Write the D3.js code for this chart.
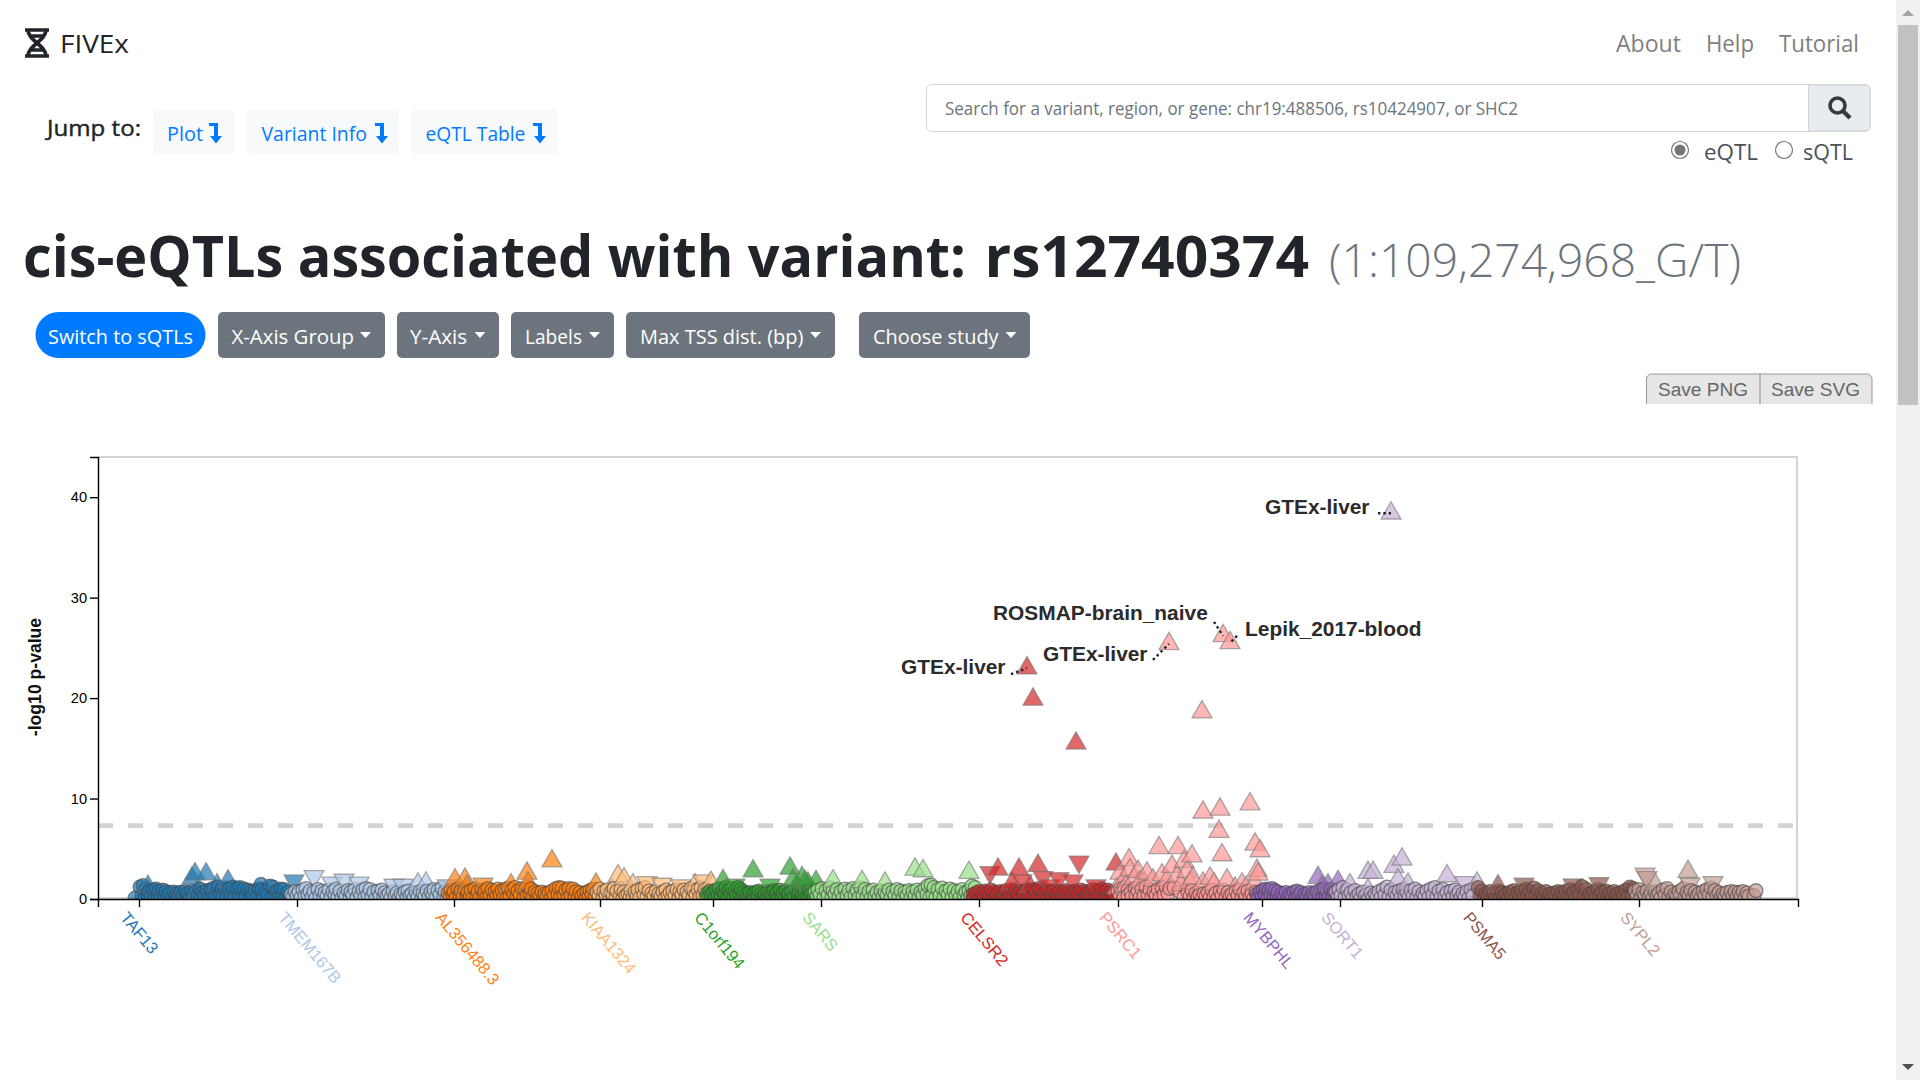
<!DOCTYPE html>
<html>
<head>
<meta charset="utf-8">
<title>FIVEx</title>
<script src="https://cdn.jsdelivr.net/npm/d3@7/dist/d3.min.js"></script>
<style>
html, body { margin: 0; padding: 0; background: #fff; overflow: hidden; }
svg { display: block; }
</style>
</head>
<body>
<svg id="page" width="1920" height="1080"></svg>
<script>
// gene tick labels and where each tick sits on the study rank axis
const geneNames = ["TAF13", "TMEM167B", "AL356488.3", "KIAA1324", "C1orf194", "SARS", "CELSR2", "PSRC1", "MYBPHL", "SORT1", "PSMA5", "SYPL2"];
const geneTicks = [41, 199, 356, 502, 615, 723, 881, 1020, 1164, 1242, 1384, 1541];
const geneColors = ["#1f77b4", "#aec7e8", "#ff7f0e", "#ffbb78", "#2ca02c", "#98df8a", "#d62728", "#ff9896", "#9467bd", "#c5b0d5", "#8c564b", "#c49c94"];
const yTicks = [0, 10, 20, 30, 40];
const threshold = 7.3;

// [rank, -log10 p]
const taf13Circles = [[37,.1],[42,1.2],[45,1.35],[48,1.0],[51,.75],[55,.9],[58,1.0],[61,.8],[65,.9],[68,.75],[72,.65],[76,.7],[79,.55],[83,.7],[87,.75],[90,.6],[94,.8],[98,.75],[102,1.0],[105,.7],[109,.85],[113,.95],[116,1.1],[120,1.2],[124,.95],[127,1.1],[131,1.0],[135,1.2],[139,1.05],[142,1.15],[146,1.0],[150,.9],[153,.75],[157,.85],[161,1.05],[163,1.45],[164,.9],[168,.75],[172,1.3],[175,1.2],[179,.8],[183,1.0],[186,.95],[190,.7]];
const taf13Low = [[44,.3],[47,.15],[50,.35],[53,.2],[57,.1],[60,.3],[63,.15],[67,.25],[70,.4],[74,.2],[78,.1],[81,.3],[85,.2],[89,.35],[92,.15],[96,.25],[100,.4],[103,.2],[107,.3],[111,.1],[115,.35],[118,.2],[122,.45],[125,.25],[129,.15],[133,.4],[137,.25],[141,.3],[144,.15],[148,.35],[152,.2],[155,.3],[159,.1],[166,.25],[170,.4],[174,.15],[177,.3],[181,.2],[185,.35],[188,.15],[192,.3]];
const taf13Up = [[50,1.23],[94,2.06],[97,2.49],[99,.7],[108,2.49],[119,1.39],[130,1.79]];
const taf13Down = [[196,1.82]];

const tmem167bCircles = [[193,.45],[197,.75],[201,.7],[205,.9],[208,1.05],[212,.8],[216,.7],[220,.95],[224,.8],[227,.65],[231,.9],[235,.75],[238,1.0],[242,.8],[246,.6],[250,.85],[253,.7],[257,.95],[261,.75],[265,.9],[268,1.05],[272,.95],[276,.7],[280,.8],[284,.9],[287,.65],[291,.55],[295,.75],[299,.6],[303,.5],[307,.7],[310,.8],[314,.55],[318,.65],[322,.75],[325,.6],[329,.8],[333,.7],[336,.95],[340,.85],[344,1.1],[347,.75]];
const tmem167bLow = [[195,.2],[199,.35],[203,.15],[207,.3],[210,.45],[214,.2],[218,.1],[222,.35],[226,.2],[229,.3],[233,.15],[237,.4],[240,.25],[244,.1],[248,.3],[252,.2],[255,.4],[259,.15],[263,.3],[267,.2],[270,.4],[274,.25],[278,.1],[282,.35],[286,.2],[289,.3],[293,.15],[297,.25],[301,.1],[305,.3],[309,.2],[312,.35],[316,.15],[320,.25],[324,.1],[327,.3],[331,.2],[335,.35],[338,.15],[342,.4],[346,.25],[349,.1]];
const tmem167bUp = [[320,1.46],[328,1.56]];
const tmem167bDown = [[216,2.26],[234,1.6],[246,1.89],[261,1.6],[296,1.39],[305,1.39],[349,1.33]];

const al356488Circles = [[350,.6],[353,.9],[356,.75],[360,1.0],[363,.8],[367,.95],[370,.7],[373,.85],[377,1.0],[380,.75],[384,.9],[387,.8],[390,1.05],[394,.9],[397,.75],[400,1.0],[404,.85],[407,.95],[410,1.1],[414,.9],[417,1.15],[420,.8],[424,1.05],[427,.95],[430,1.2],[433,1.0],[437,.75],[440,.6],[444,.7],[447,.55],[451,.65],[454,.8],[458,1.05],[461,1.15],[464,1.1],[468,.9],[471,1.05],[475,1.0],[478,.75],[482,.65],[486,.55],[489,.7],[492,.85],[495,1.0]];
const al356488Low = [[352,.25],[355,.4],[358,.15],[362,.35],[365,.2],[369,.45],[372,.25],[375,.1],[379,.35],[382,.2],[386,.45],[389,.25],[392,.4],[396,.15],[399,.3],[402,.45],[406,.25],[409,.1],[412,.35],[416,.5],[419,.25],[422,.4],[426,.15],[429,.35],[432,.5],[435,.25],[439,.1],[442,.3],[446,.2],[449,.3],[453,.1],[456,.35],[460,.45],[463,.25],[466,.4],[470,.15],[473,.35],[477,.2],[480,.1],[484,.3],[488,.15],[491,.25],[494,.4],[497,.2]];
const al356488Up = [[357,1.89],[367,1.96],[369,1.23],[413,1.39],[429,2.55],[430,1.56],[454,3.78],[498,1.46]];
const al356488Down = [[385,1.49]];

const kiaa1324Circles = [[499,.7],[502,1.0],[506,.75],[509,.9],[513,.65],[516,1.05],[519,.8],[523,.95],[526,.7],[530,.55],[533,.8],[537,.7],[540,.9],[544,1.05],[547,1.15],[551,.8],[554,.6],[558,.75],[561,.55],[565,.7],[568,.9],[572,.65],[575,.8],[579,.95],[582,.75],[586,.9],[589,.7],[593,1.05],[596,.8],[600,.95],[603,1.1],[607,.95]];
const kiaa1324Low = [[501,.3],[505,.15],[508,.35],[512,.2],[515,.4],[518,.1],[522,.3],[525,.15],[528,.35],[532,.2],[535,.1],[539,.3],[542,.15],[546,.4],[549,.2],[553,.1],[556,.3],[560,.15],[563,.25],[567,.1],[570,.35],[574,.2],[577,.3],[581,.15],[584,.4],[588,.2],[591,.35],[595,.15],[598,.4],[602,.25],[605,.35],[608,.15]];
const kiaa1324Up = [[514,.9],[520,2.29],[526,1.99],[535,1.39],[597,1.39],[613,1.63]];
const kiaa1324Down = [[549,1.66],[564,1.49],[583,1.33],[605,1.82]];

const c1orf194Circles = [[609,.55],[612,.8],[615,.65],[618,.9],[621,1.05],[625,.8],[628,1.15],[631,.9],[634,1.05],[637,.8],[640,1.15],[643,.95],[646,.7],[649,.55],[652,.65],[655,.5],[658,.7],[661,.8],[664,.6],[667,.5],[670,.75],[673,.65],[676,.85],[679,.7],[682,.9],[685,.65],[688,.8],[691,.6],[694,.7],[698,.85],[701,.65],[704,.5],[707,.7],[711,.8],[714,.65]];
const c1orf194Low = [[610,.2],[613,.35],[617,.15],[620,.4],[623,.25],[627,.45],[630,.2],[633,.4],[636,.15],[639,.35],[642,.5],[645,.25],[648,.1],[651,.3],[654,.15],[657,.25],[660,.35],[663,.1],[666,.25],[669,.15],[672,.3],[675,.2],[678,.4],[681,.15],[684,.3],[687,.2],[690,.35],[693,.1],[696,.25],[700,.4],[703,.15],[706,.3],[709,.2],[712,.35],[716,.15]];
const c1orf194Up = [[625,1.82],[655,2.79],[692,3.05],[695,1.89],[699,1.39],[704,2.12],[707,1.72],[710,1.56],[718,1.72]];
const c1orf194Down = [[637,1.39],[672,1.39]];

const sarsCircles = [[717,.7],[720,.9],[724,1.05],[728,.85],[732,1.1],[735,.8],[739,.95],[743,.75],[747,1.0],[751,.85],[755,1.05],[759,.9],[763,1.1],[767,.95],[771,.75],[775,.9],[779,.65],[783,.8],[787,.7],[791,.9],[795,.75],[799,.95],[803,.8],[807,.7],[811,.85],[815,.75],[819,.9],[823,.7],[827,1.05],[830,1.35],[833,1.4],[836,1.15],[840,.95],[844,1.1],[848,.8],[852,1.0],[856,.85],[860,.75],[864,.95],[868,.7],[871,.8],[874,1.3],[877,1.15]];
const sarsLow = [[719,.25],[722,.4],[726,.15],[730,.35],[734,.2],[737,.45],[741,.25],[745,.1],[749,.35],[753,.2],[757,.4],[761,.15],[765,.35],[769,.2],[773,.1],[777,.3],[781,.15],[785,.25],[789,.4],[793,.15],[797,.3],[801,.2],[805,.1],[809,.35],[813,.15],[817,.3],[821,.2],[825,.35],[829,.45],[832,.2],[835,.4],[838,.15],[842,.35],[846,.2],[850,.4],[854,.15],[858,.3],[862,.2],[866,.35],[870,.15],[873,.4],[876,.25]];
const sarsUp = [[735,1.79],[764,1.72],[787,1.56],[817,2.95],[825,2.79],[871,2.62]];
const sarsDown = [];

const celsr2Circles = [[875,.45],[878,.6],[881,.75],[884,.55],[887,.8],[890,.65],[893,.9],[896,.7],[899,.55],[902,.75],[905,.6],[908,.85],[911,.7],[914,.95],[917,.75],[920,.55],[923,.8],[926,.65],[929,.9],[932,.75],[935,.95],[938,.8],[941,1.05],[944,.9],[947,.7],[950,.85],[953,.65],[956,.8],[959,.55],[962,.75],[965,.65],[968,.85],[971,.7],[974,.55],[977,.8],[980,.65],[983,.9],[986,.75],[989,.6],[992,.8],[995,.95],[998,.7],[1001,.85],[1004,1.0],[1007,.75],[1010,.9],[1013,.7],[1016,.6]];
const celsr2Low = [[876,.15],[880,.3],[883,.1],[886,.35],[889,.2],[892,.4],[895,.15],[898,.3],[901,.1],[904,.25],[907,.4],[910,.2],[913,.35],[916,.15],[919,.3],[922,.1],[925,.35],[928,.2],[931,.4],[934,.25],[937,.45],[940,.2],[943,.35],[946,.15],[949,.3],[952,.1],[955,.3],[958,.15],[961,.25],[964,.4],[967,.2],[970,.3],[973,.1],[976,.35],[979,.2],[982,.4],[985,.15],[988,.25],[991,.35],[994,.2],[997,.4],[1000,.15],[1003,.3],[1006,.2],[1009,.35],[1012,.15],[1015,.25]];
const celsr2Up = [[900,2.95],[914,1.56],[921,2.95],[929,22.98],[932,1.23],[935,19.87],[940,3.32],[978,15.5],[1018,3.45]];
const celsr2Down = [[892,2.65],[924,1.82],[945,2.16],[952,1.33],[961,2.05],[975,1.82],[981,3.7],[998,1.33]];

const psrc1Circles = [[1020,.8],[1023,1.0],[1026,1.15],[1030,.9],[1033,.7],[1037,1.05],[1040,.8],[1044,.95],[1048,1.2],[1052,.9],[1056,.7],[1060,.95],[1064,1.1],[1068,1.2],[1072,1.05],[1076,1.15],[1082,.7],[1090,.65],[1094,.85],[1098,.6],[1102,.45],[1106,.55],[1110,.65],[1114,.85],[1118,.6],[1122,.75],[1126,.9],[1130,.65],[1134,.5],[1138,.75],[1142,.9],[1146,.65],[1150,.8],[1154,.55],[1158,.7]];
const psrc1Low = [[1022,.3],[1026,.15],[1030,.35],[1034,.2],[1038,.4],[1042,.15],[1046,.3],[1050,.45],[1054,.2],[1058,.35],[1062,.15],[1066,.45],[1070,.55],[1086,.2],[1092,.3],[1096,.15],[1100,.25],[1104,.1],[1108,.3],[1112,.15],[1116,.25],[1120,.1],[1124,.35],[1128,.2],[1132,.3],[1136,.1],[1140,.35],[1144,.15],[1148,.3],[1152,.2],[1156,.1]];
const psrc1Up = [[1019,1.06],[1022,2.55],[1025,1.72],[1028,1.3],[1031,3.88],[1032,2.89],[1036,2.0],[1040,2.72],[1042,1.72],[1046,1.5],[1049,2.55],[1055,1.89],[1061,5.1],[1064,2.39],[1069,1.89],[1071,25.4],[1074,3.22],[1079,2.22],[1080,5.1],[1083,1.4],[1086,3.71],[1089,2.72],[1092,1.6],[1094,4.28],[1095,2.06],[1104,18.6],[1105,8.62],[1105,1.56],[1112,2.06],[1116,1.5],[1121,6.7],[1122,8.92],[1124,4.38],[1125,26.2],[1129,1.89],[1132,25.5],[1137,1.06],[1144,1.46],[1148,1.1],[1152,9.45],[1157,5.44],[1157,1.56],[1159,2.82],[1160,2.45],[1162,4.78]];
const psrc1Down = [];

const mybphlCircles = [[1159,.5],[1162,.7],[1165,.9],[1168,1.0],[1171,.9],[1174,1.05],[1177,.85],[1180,.7],[1184,.55],[1188,.65],[1192,.5],[1196,.7],[1199,.8],[1203,.65],[1207,.5],[1211,.65],[1215,.55],[1219,.75],[1223,.9],[1226,1.0],[1229,.8],[1233,.95],[1236,.75]];
const mybphlLow = [[1160,.15],[1164,.3],[1167,.45],[1170,.2],[1173,.35],[1176,.15],[1179,.3],[1182,.1],[1186,.25],[1190,.15],[1194,.3],[1198,.2],[1201,.35],[1205,.1],[1209,.25],[1213,.15],[1217,.3],[1221,.4],[1225,.2],[1228,.35],[1231,.15],[1235,.3]];
const mybphlUp = [[1220,2.12],[1224,1.2],[1230,1.39],[1240,1.72]];
const mybphlDown = [];

const sort1Circles = [[1238,.7],[1241,.95],[1245,1.15],[1249,.9],[1253,.65],[1257,.85],[1261,.5],[1265,.7],[1269,.45],[1273,.6],[1277,.5],[1281,.75],[1285,.95],[1289,1.2],[1293,.9],[1297,.65],[1301,.8],[1305,.95],[1309,.7],[1313,.85],[1317,1.0],[1321,.75],[1325,.55],[1329,.8],[1333,1.0],[1337,1.15],[1341,.8],[1345,.95],[1349,.65],[1353,.8],[1357,.9],[1361,.7],[1365,.55],[1369,.75],[1373,.9]];
const sort1Low = [[1240,.2],[1243,.35],[1247,.15],[1251,.3],[1255,.1],[1259,.25],[1263,.15],[1267,.3],[1271,.1],[1275,.2],[1279,.3],[1283,.15],[1287,.4],[1291,.25],[1295,.1],[1299,.3],[1303,.15],[1307,.35],[1311,.2],[1315,.3],[1319,.15],[1323,.1],[1327,.3],[1331,.2],[1335,.4],[1339,.25],[1343,.15],[1347,.3],[1351,.1],[1355,.25],[1359,.35],[1363,.15],[1367,.25],[1371,.1],[1375,.3]];
const sort1Up = [[1252,1.39],[1270,2.62],[1270,.9],[1275,2.62],[1293,38.4],[1296,3.22],[1300,1.89],[1304,3.95],[1310,1.46],[1349,2.29],[1379,1.56]];
const sort1Down = [[1367,1.66]];

const psma5Circles = [[1380,1.15],[1384,.8],[1388,.55],[1392,.75],[1396,.6],[1400,.8],[1404,.65],[1408,.5],[1412,.7],[1416,.85],[1420,.65],[1424,.8],[1428,.95],[1432,.75],[1436,1.1],[1440,.85],[1444,.6],[1448,.75],[1452,.5],[1456,.6],[1460,.75],[1464,.65],[1468,.8],[1472,.95],[1476,.7],[1480,.85],[1484,1.25],[1488,1.0],[1492,.55],[1496,.75],[1500,.95],[1504,.7],[1508,.8],[1512,.6],[1516,.75],[1520,.55],[1524,.7],[1528,.9],[1532,1.2],[1535,1.05]];
const psma5Low = [[1382,.3],[1386,.15],[1390,.35],[1394,.2],[1398,.3],[1402,.1],[1406,.25],[1410,.15],[1414,.35],[1418,.2],[1422,.3],[1426,.15],[1430,.4],[1434,.25],[1438,.35],[1442,.15],[1446,.25],[1450,.1],[1454,.2],[1458,.3],[1462,.15],[1466,.3],[1470,.2],[1474,.35],[1478,.15],[1482,.4],[1486,.25],[1490,.1],[1494,.3],[1498,.2],[1502,.35],[1506,.15],[1510,.25],[1514,.1],[1518,.3],[1522,.15],[1526,.35],[1530,.2],[1534,.4]];
const psma5Up = [[1400,1.29]];
const psma5Down = [[1426,1.49],[1475,1.42],[1501,1.56]];

const sypl2Circles = [[1537,.8],[1541,.95],[1545,.65],[1549,.8],[1553,.55],[1557,.75],[1561,.6],[1565,.9],[1569,1.05],[1573,.7],[1577,.5],[1581,.75],[1585,1.0],[1589,.65],[1593,.85],[1597,.7],[1601,.55],[1605,.75],[1609,.95],[1613,1.1],[1617,.85],[1621,.65],[1625,.5],[1629,.65],[1633,.75],[1637,.7],[1641,.65],[1645,.75],[1649,.6],[1658,.83]];
const sypl2Low = [[1539,.3],[1543,.15],[1547,.35],[1551,.2],[1555,.1],[1559,.3],[1563,.15],[1567,.4],[1571,.25],[1575,.15],[1579,.3],[1583,.4],[1587,.2],[1591,.35],[1595,.15],[1599,.25],[1603,.1],[1607,.3],[1611,.4],[1615,.2],[1619,.3],[1623,.15],[1627,.25],[1631,.1],[1635,.3],[1639,.2],[1643,.25],[1647,.15],[1651,.3],[1656,.35]];
const sypl2Up = [[1557,1.46],[1584,.73],[1590,2.72]];
const sypl2Down = [[1547,2.49],[1549,2.16],[1592,1.49],[1615,1.66]];

const geneCircles = [taf13Circles, tmem167bCircles, al356488Circles, kiaa1324Circles, c1orf194Circles, sarsCircles, celsr2Circles, psrc1Circles, mybphlCircles, sort1Circles, psma5Circles, sypl2Circles];
const geneLow = [taf13Low, tmem167bLow, al356488Low, kiaa1324Low, c1orf194Low, sarsLow, celsr2Low, psrc1Low, mybphlLow, sort1Low, psma5Low, sypl2Low];
const geneUp = [taf13Up, tmem167bUp, al356488Up, kiaa1324Up, c1orf194Up, sarsUp, celsr2Up, psrc1Up, mybphlUp, sort1Up, psma5Up, sypl2Up];
const geneDown = [taf13Down, tmem167bDown, al356488Down, kiaa1324Down, c1orf194Down, sarsDown, celsr2Down, psrc1Down, mybphlDown, sort1Down, psma5Down, sypl2Down];

// labelled studies and the point each one belongs to
const labelNames = ["GTEx-liver", "ROSMAP-brain_naive", "Lepik_2017-blood", "GTEx-liver", "GTEx-liver"];
const labelRanks = [1293, 1125, 1132, 1071, 929];
const labelValues = [38.4, 26.2, 25.5, 25.4, 22.98];

const navItems = ["About", "Help", "Tutorial"];
const jumpItems = ["Plot", "Variant Info", "eQTL Table"];
const controlItems = ["X-Axis Group", "Y-Axis", "Labels", "Max TSS dist. (bp)", "Choose study"];

const svg = d3.select("#page");
const uiFont = "'Open Sans', sans-serif";
const plotFont = "'Liberation Sans', Arial, sans-serif";

// text squeezed to the measured width, the page font is a little narrower than Open Sans
function uiText(x0, x1, base, str, size, fill, weight) {
    return svg.append("text")
        .attr("x", x0).attr("y", base)
        .attr("textLength", x1 - x0).attr("lengthAdjust", "spacingAndGlyphs")
        .attr("font-family", uiFont).attr("font-size", size)
        .attr("font-weight", weight || 400).attr("fill", fill)
        .text(str);
}

function uiBox(x0, x1, y0, y1, fill, r) {
    return svg.append("rect")
        .attr("x", x0).attr("y", y0).attr("width", x1 - x0).attr("height", y1 - y0)
        .attr("rx", r).attr("fill", fill);
}

function caret(x0, x1, y) {
    svg.append("path")
        .attr("d", "M" + x0 + "," + y + "L" + x1 + "," + y + "L" + ((x0 + x1) / 2) + "," + (y + 6) + "Z")
        .attr("fill", "#fff");
}

function jumpArrow(x) {
    svg.append("path")
        .attr("d", "M" + x + ",123h9v13h4l-6,7.5l-6,-7.5h4v-10h-5z")
        .attr("fill", "#007bff");
}

function drawChrome() {
    // scrollbar
    svg.append("rect").attr("x", 1896).attr("y", 0).attr("width", 24).attr("height", 1080).attr("fill", "#f1f1f1");
    svg.append("rect").attr("x", 1898).attr("y", 25).attr("width", 20).attr("height", 380).attr("fill", "#c1c1c1");
    svg.append("path").attr("d", "M1902,16l6,-6l6,6z").attr("fill", "#a3a3a3");
    svg.append("path").attr("d", "M1902,1064l6,6l6,-6z").attr("fill", "#505050");

    // logo
    svg.append("path")
        .attr("d", "M25,30H49M25,56H49M28,30C28,41 46,45 46,56M46,30C46,41 28,45 28,56M29,36H45M29,50H45")
        .attr("fill", "none").attr("stroke", "#212529").attr("stroke-width", 3.6);
    uiText(60, 129, 53, "FIVEx", 25, "#212529");

    const navX = [[1616, 1681], [1706, 1754], [1779, 1859]];
    navItems.forEach(function(d, i) {
        uiText(navX[i][0], navX[i][1], 52, d, 23, "#808080");
    });

    // jump links
    uiText(47, 141, 136, "Jump to:", 21, "#212529", 400).attr("stroke", "#212529").attr("stroke-width", 0.4);
    const jumpBox = [[153, 235], [247, 399], [411, 558]];
    const jumpText = [[167, 203], [261.5, 367], [425.6, 525.4]];
    const jumpIcon = [209, 375, 533];
    jumpItems.forEach(function(d, i) {
        uiBox(jumpBox[i][0], jumpBox[i][1], 109, 155, "#f8f9fa", 5);
        uiText(jumpText[i][0], jumpText[i][1], 141, d, 20, "#007bff");
        jumpArrow(jumpIcon[i]);
    });

    // search box
    svg.append("rect").attr("x", 926.5).attr("y", 84.5).attr("width", 943.5).attr("height", 47).attr("rx", 5)
        .attr("fill", "#fff").attr("stroke", "#ced4da");
    svg.append("path").attr("d", "M1808.5,85H1866a4,4 0 0 1 4,4V127a4,4 0 0 1 -4,4H1808.5Z").attr("fill", "#e9ecef").attr("stroke", "#ced4da");
    uiText(945, 1518, 115, "Search for a variant, region, or gene: chr19:488506, rs10424907, or SHC2", 18, "#6c757d");
    svg.append("circle").attr("cx", 1837.5).attr("cy", 105.5).attr("r", 7.5).attr("fill", "none").attr("stroke", "#343a40").attr("stroke-width", 3.6);
    svg.append("line").attr("x1", 1843).attr("y1", 111).attr("x2", 1850).attr("y2", 118).attr("stroke", "#343a40").attr("stroke-width", 4.4);

    // radios
    svg.append("circle").attr("cx", 1680).attr("cy", 150).attr("r", 8.5).attr("fill", "#fff").attr("stroke", "#767676").attr("stroke-width", 1.2);
    svg.append("circle").attr("cx", 1680).attr("cy", 150).attr("r", 5.5).attr("fill", "#767676");
    uiText(1704, 1758, 160, "eQTL", 21, "#495057");
    svg.append("circle").attr("cx", 1784).attr("cy", 150).attr("r", 8.5).attr("fill", "#fff").attr("stroke", "#767676").attr("stroke-width", 1.2);
    uiText(1803, 1853, 160, "sQTL", 21, "#495057");

    // heading, the two parts placed apart because the word widths differ from the page font
    uiText(23, 966, 277, "cis-eQTLs associated with variant:", 58, "#212529", 700);
    uiText(984.5, 1309, 277, "rs12740374", 58, "#212529", 700);
    uiText(1329, 1741, 277, "(1:109,274,968_G/T)", 46, "#6c757d", 300);

    // control buttons
    uiBox(35.5, 205.5, 312, 358, "#007bff", 23);
    uiText(48, 193, 343.5, "Switch to sQTLs", 20, "#fff");
    const ctrlBox = [[218, 385], [397, 499], [511, 614], [626, 835], [859, 1030]];
    const ctrlText = [[231.5, 354], [410, 467], [525, 582], [640, 803.4], [873, 998.6]];
    const ctrlCaret = [[360, 371], [474.5, 485.5], [589, 600], [810, 821], [1005.5, 1016.5]];
    controlItems.forEach(function(d, i) {
        uiBox(ctrlBox[i][0], ctrlBox[i][1], 312, 358, "#6c757d", 5);
        uiText(ctrlText[i][0], ctrlText[i][1], 343.5, d, 20, "#fff");
        caret(ctrlCaret[i][0], ctrlCaret[i][1], 332);
    });

    // save buttons, their bottom edge is cut off in the page
    svg.append("path").attr("d", "M1646.5,404V379a5,5 0 0 1 5,-5H1867a5,5 0 0 1 5,5V404").attr("fill", "#e6e6e6").attr("stroke", "#999");
    svg.append("line").attr("x1", 1760).attr("x2", 1760).attr("y1", 374).attr("y2", 404).attr("stroke", "#888");
    svg.append("text").attr("x", 1658).attr("y", 396).attr("textLength", 90).attr("lengthAdjust", "spacingAndGlyphs")
        .attr("font-family", plotFont).attr("font-size", 19).attr("fill", "#666").text("Save PNG");
    svg.append("text").attr("x", 1771).attr("y", 396).attr("textLength", 89).attr("lengthAdjust", "spacingAndGlyphs")
        .attr("font-family", plotFont).attr("font-size", 19).attr("fill", "#666").text("Save SVG");
}

function drawPlot() {
    const left = 98, right = 1798, top = 457, bottom = 899;
    const x = d3.scaleLinear().domain([0, 1700]).range([left, right]);
    const y = d3.scaleLinear().domain([0, 44]).range([bottom, top]);

    const plot = svg.append("g");
    plot.append("defs").append("clipPath").attr("id", "panel-clip")
        .append("rect").attr("x", left).attr("y", top).attr("width", right - left).attr("height", bottom - top);

    // panel border
    plot.append("path")
        .attr("d", "M" + left + "," + top + "H" + (right - 1) + "V" + (bottom - 1) + "H" + left)
        .attr("fill", "none").attr("stroke", "#d3d3d3").attr("stroke-width", 2);

    // significance line
    plot.append("line")
        .attr("x1", x(0)).attr("x2", x(1695))
        .attr("y1", y(threshold)).attr("y2", y(threshold))
        .attr("stroke", "#d3d3d3").attr("stroke-width", 4.7).attr("stroke-dasharray", "15 15");

    // points, gene by gene and left to right inside a gene
    const trianglePath = d3.symbol().type(d3.symbolTriangle).size(173)();
    const circlePath = d3.symbol().type(d3.symbolCircle).size(150)();
    const pointsLayer = plot.append("g").attr("clip-path", "url(#panel-clip)");
    geneNames.forEach(function(name, i) {
        const rows = []
            .concat(geneCircles[i].map(function(d) { return {rank: d[0], value: d[1], shape: "circle"}; }))
            .concat(geneLow[i].map(function(d) { return {rank: d[0], value: d[1], shape: "circle"}; }))
            .concat(geneUp[i].map(function(d) { return {rank: d[0], value: d[1], shape: "up"}; }))
            .concat(geneDown[i].map(function(d) { return {rank: d[0], value: d[1], shape: "down"}; }));
        rows.sort(function(a, b) { return a.rank - b.rank; });

        const g = pointsLayer.append("g").attr("fill", geneColors[i]);
        g.selectAll("path")
            .data(rows)
            .enter().append("path")
            .attr("d", function(d) { return d.shape === "circle" ? circlePath : trianglePath; })
            .attr("transform", function(d) {
                var t = "translate(" + x(d.rank) + "," + y(d.value) + ")";
                return d.shape === "down" ? t + " rotate(180)" : t;
            })
            .attr("fill-opacity", 0.7)
            .attr("stroke", function(d) { return d.shape === "circle" ? "#444" : "#777"; })
            .attr("stroke-opacity", 0.6)
            .attr("stroke-width", 1.3);
    });

    // axes
    const yAxis = d3.axisLeft(y).tickValues(yTicks).tickSize(8);
    const yG = plot.append("g").attr("transform", "translate(" + left + ",0)").call(yAxis);
    yG.selectAll("text").attr("font-family", plotFont).attr("font-size", 14.6).attr("fill", "#000");
    yG.selectAll("path, line").attr("stroke", "#000").attr("stroke-width", 1.4);

    const xAxis = d3.axisBottom(x).tickValues(geneTicks).tickSize(8).tickFormat(function(d, i) { return geneNames[i]; });
    const xG = plot.append("g").attr("transform", "translate(0," + bottom + ")").call(xAxis);
    xG.selectAll("path, line").attr("stroke", "#000").attr("stroke-width", 1.4);
    xG.selectAll("text")
        .attr("font-family", plotFont).attr("font-size", 16.5)
        .attr("fill", function(d, i) { return geneColors[i]; })
        .attr("text-anchor", "start")
        .attr("x", 0).attr("y", 0).attr("dy", 0)
        .attr("transform", "translate(-20,19) rotate(50)");

    plot.append("text")
        .attr("transform", "translate(41,677) rotate(-90)")
        .attr("text-anchor", "middle")
        .attr("font-family", plotFont).attr("font-size", 17.6).attr("font-weight", 700).attr("fill", "#111")
        .text("-log10 p-value");

    // study labels: text start and baseline, and where the dotted leader starts, relative to the point
    const labelLayout = [
        {tx: -126, ty: 1, lx: -13, ly: 0},
        {tx: -230, ty: -16, lx: -9, ly: -14},
        {tx: 15, ty: -7, lx: 7, ly: -7},
        {tx: -126, ty: 17, lx: -16, ly: 16},
        {tx: -126, ty: 6, lx: -16, ly: 6}
    ];
    labelNames.forEach(function(name, i) {
        const px = x(labelRanks[i]), py = y(labelValues[i]);
        plot.append("line")
            .attr("x1", px + labelLayout[i].lx).attr("y1", py + labelLayout[i].ly)
            .attr("x2", px).attr("y2", py)
            .attr("stroke", "#222").attr("stroke-width", 2.4).attr("stroke-dasharray", "2.4 3");
        plot.append("text")
            .attr("x", px + labelLayout[i].tx).attr("y", py + labelLayout[i].ty)
            .attr("font-family", plotFont).attr("font-size", 20.9).attr("font-weight", 700).attr("fill", "#2b2b2b")
            .text(name);
    });
}

drawChrome();
drawPlot();
</script>
</body>
</html>
